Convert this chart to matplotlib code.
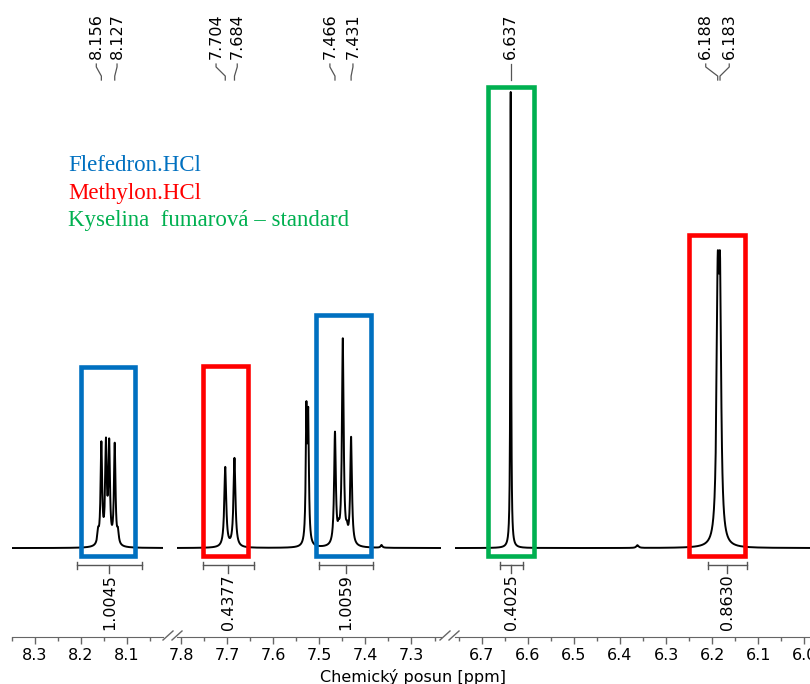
import numpy as np
import matplotlib.pyplot as plt
from matplotlib.patches import Rectangle
from matplotlib.lines import Line2D
from matplotlib.ticker import MultipleLocator, FormatStrFormatter

# peaks: position [ppm], height (tallest = 1), half width [ppm]
peak_ppm = [8.163, 8.156, 8.146, 8.139, 8.127, 8.120,
            7.704, 7.684,
            7.528, 7.524,
            7.466, 7.458, 7.449, 7.440, 7.431, 7.365,
            6.637, 6.362,
            6.188, 6.183]
peak_height = [0.025, 0.22, 0.215, 0.215, 0.22, 0.025,
               0.175, 0.195,
               0.28, 0.265,
               0.245, 0.02, 0.45, 0.02, 0.235, 0.006,
               1.0, 0.006,
               0.51, 0.51]
peak_hw = [0.002] * 6 + [0.0025] * 2 + [0.0017] * 2 + [0.0022] * 6 + [0.001, 0.003] + [0.003] * 2

# picked peaks (labels on top)
label_ppm = [8.156, 8.127, 7.704, 7.684, 7.466, 7.431, 6.637, 6.188, 6.183]
label_text = ['8.156', '8.127', '7.704', '7.684', '7.466', '7.431', '6.637', '6.188', '6.183']

# integrals
integral_from = [8.209, 7.752, 7.501, 6.661, 6.210]
integral_to = [8.068, 7.642, 7.384, 6.611, 6.124]
integral_value = ['1.0045', '0.4377', '1.0059', '0.4025', '0.8630']

# highlighted regions
box_from = [8.201, 7.752, 7.507, 6.686, 6.250]
box_to = [8.082, 7.654, 7.388, 6.587, 6.129]
box_top = [0.397, 0.399, 0.511, 1.011, 0.686]
box_color = ['#0070C0', '#FF0000', '#0070C0', '#00B050', '#FF0000']

legend_text = ['Flefedron.HCl', 'Methylon.HCl', 'Kyselina  fumarová – standard']
legend_color = ['#0070C0', '#FF0000', '#00B050']

# broken axis: ppm limits and pixel extent of each part
seg_ppm = [(8.3505, 8.0223), (7.8087, 7.236), (6.7579, 5.9878)]
seg_px = [(11.7, 163), (177, 441), (455, 810)]

W, H = 810, 684
axis_y = 637
ylim = (-0.195, 1.2018)

fig = plt.figure(figsize=(W / 100, H / 100), dpi=100)

x = np.arange(5.95, 8.40, 0.0001)
y = np.zeros_like(x)
for p, h, g in zip(peak_ppm, peak_height, peak_hw):
    y += h / (1 + ((x - p) / g) ** 2)

# small offset of label text so close pairs don't overlap
label_shift = [0.011, -0.005, 0.020, -0.006, 0.011, -0.004, 0.0, 0.026, -0.020]

axes = []
for (lo, hi), (p0, p1) in zip(seg_ppm, seg_px):
    ax = fig.add_axes([p0 / W, (H - axis_y) / H, (p1 - p0) / W, axis_y / H])
    ax.set_xlim(lo, hi)
    ax.set_ylim(*ylim)
    m = (x <= lo) & (x >= hi)
    ax.plot(x[m], y[m], color='black', lw=1.4)
    for s in ['top', 'right', 'left']:
        ax.spines[s].set_visible(False)
    ax.spines['bottom'].set_color('#666666')
    ax.set_yticks([])
    ax.xaxis.set_major_locator(MultipleLocator(0.1))
    ax.xaxis.set_minor_locator(MultipleLocator(0.05))
    ax.xaxis.set_major_formatter(FormatStrFormatter('%.1f'))
    ax.tick_params(axis='x', which='major', length=5, width=1, color='#666666', labelsize=11.5, pad=3)
    ax.tick_params(axis='x', which='minor', length=3, width=1, color='#666666')
    ax.patch.set_alpha(0)
    axes.append(ax)


def seg_of(p):
    for ax, (lo, hi) in zip(axes, seg_ppm):
        if hi <= p <= lo:
            return ax


for x0, x1, top, c in zip(box_from, box_to, box_top, box_color):
    ax = seg_of(x0)
    ax.add_patch(Rectangle((x1, -0.0164), x0 - x1, top + 0.0164, fill=False, ec=c, lw=3.3, zorder=3))

bar_y = -0.0373
for x0, x1, v in zip(integral_from, integral_to, integral_value):
    ax = seg_of(x0)
    mid = (x0 + x1) / 2
    kw = dict(color='#555555', lw=1)
    ax.plot([x0, x1], [bar_y, bar_y], **kw)
    ax.plot([x0, x0], [bar_y - 0.009, bar_y + 0.006], **kw)
    ax.plot([x1, x1], [bar_y - 0.009, bar_y + 0.006], **kw)
    ax.plot([mid, mid], [bar_y, -0.0555], **kw)
    ax.text(mid, -0.058, v, rotation=90, ha='center', va='top', fontsize=11.5)

for p, t, s in zip(label_ppm, label_text, label_shift):
    ax = seg_of(p)
    tx = p + s
    ax.plot([tx, tx, p, p], [1.0614, 1.055, 1.035, 1.0263], color='#555555', lw=0.9)
    ax.text(tx, 1.072, t, rotation=90, ha='center', va='bottom', fontsize=11.5)

# break marks on the axis
for bx in [163, 440]:
    for dx in [0, 9]:
        x0 = (bx + dx) / W
        fig.add_artist(Line2D([x0, x0 + 10 / W], [(H - axis_y - 3) / H, (H - axis_y + 6) / H],
                              color='#666666', lw=1))

for i, (t, c) in enumerate(zip(legend_text, legend_color)):
    fig.text(68 / W, (H - 171 - 27.5 * i) / H, t, color=c, fontsize=16.5,
             family='Liberation Serif', va='baseline', ha='left')

fig.text(413.5 / W, (H - 677) / H, 'Chemický posun [ppm]', ha='center', va='center', fontsize=11.5)

fig.savefig('out.png', dpi=100)
